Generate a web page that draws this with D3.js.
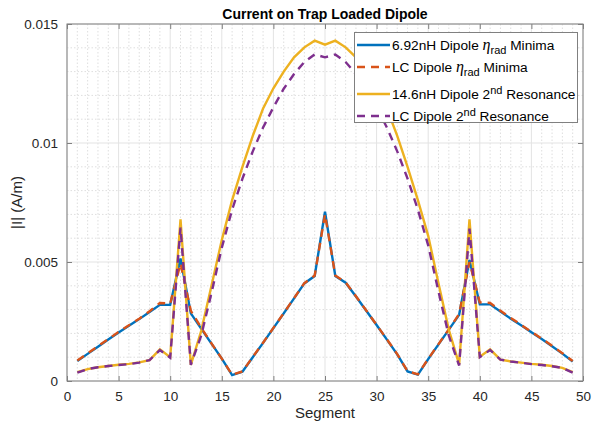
<!DOCTYPE html>
<html>
<head>
<meta charset="utf-8">
<script src="https://cdn.jsdelivr.net/npm/d3@7"></script>
<style>
  body { margin: 0; background: #fff; }
  svg { font-family: "Liberation Sans", Arial, sans-serif; }
</style>
</head>
<body>
<svg id="plot-svg"></svg>
<script>
const segments = d3.range(1, 50);

// segment 1..49
const inductor692 = [0.00084, 0.00114, 0.00144, 0.00174, 0.00204, 0.00232, 0.00260, 0.00290, 0.00320, 0.00320,
    0.00515, 0.00284, 0.00220, 0.00157, 0.00094, 0.00025, 0.00039, 0.00100, 0.00160, 0.00222,
    0.00284, 0.00347, 0.00410, 0.00441, 0.00711, 0.00441, 0.00413, 0.00355, 0.00295, 0.00235,
    0.00174, 0.00112, 0.00040, 0.00027, 0.00092, 0.00154, 0.00216, 0.00278, 0.00508, 0.00322,
    0.00322, 0.00292, 0.00262, 0.00234, 0.00205, 0.00176, 0.00146, 0.00115, 0.00082];
const lcMinima = [0.00086, 0.00116, 0.00146, 0.00176, 0.00206, 0.00234, 0.00262, 0.00293, 0.00328, 0.00325,
    0.00494, 0.00295, 0.00224, 0.00158, 0.00094, 0.00026, 0.00040, 0.00101, 0.00161, 0.00223,
    0.00285, 0.00348, 0.00411, 0.00443, 0.00700, 0.00443, 0.00414, 0.00356, 0.00296, 0.00236,
    0.00175, 0.00113, 0.00041, 0.00028, 0.00093, 0.00155, 0.00217, 0.00282, 0.00500, 0.00330,
    0.00328, 0.00295, 0.00265, 0.00236, 0.00207, 0.00178, 0.00148, 0.00117, 0.00084];
const inductor146 = [0.00037, 0.00050, 0.00058, 0.00063, 0.00068, 0.00072, 0.00078, 0.00088, 0.00133, 0.00100,
    0.00679, 0.00068, 0.00210, 0.00400, 0.00592, 0.00760, 0.00900, 0.01030, 0.01145, 0.01230,
    0.01300, 0.01360, 0.01402, 0.01430, 0.01413, 0.01430, 0.01402, 0.01360, 0.01300, 0.01230,
    0.01145, 0.01030, 0.00900, 0.00760, 0.00610, 0.00410, 0.00215, 0.00070, 0.00679, 0.00102,
    0.00133, 0.00090, 0.00082, 0.00077, 0.00072, 0.00068, 0.00063, 0.00055, 0.00037];
const lcResonance = [0.00035, 0.00050, 0.00058, 0.00063, 0.00067, 0.00071, 0.00077, 0.00088, 0.00130, 0.00098,
    0.00645, 0.00068, 0.00190, 0.00370, 0.00560, 0.00720, 0.00850, 0.00965, 0.01065, 0.01150,
    0.01228, 0.01290, 0.01340, 0.01372, 0.01360, 0.01372, 0.01340, 0.01290, 0.01228, 0.01150,
    0.01065, 0.00965, 0.00850, 0.00720, 0.00570, 0.00375, 0.00190, 0.00065, 0.00640, 0.00100,
    0.00130, 0.00090, 0.00082, 0.00077, 0.00071, 0.00067, 0.00062, 0.00055, 0.00035];

const xTicks = [0, 5, 10, 15, 20, 25, 30, 35, 40, 45, 50];
const yTicks = [0, 0.005, 0.01, 0.015];
const yTickLabels = ["0", "0.005", "0.01", "0.015"];

const series = [
    {values: inductor692, color: "#0072BD", dash: null, label: ["6.92nH Dipole ", "eta", " Minima"]},
    {values: lcMinima, color: "#D95319", dash: "8,6", label: ["LC Dipole ", "eta", " Minima"]},
    {values: inductor146, color: "#EDB120", dash: null, label: ["14.6nH Dipole 2", "nd", " Resonance"]},
    {values: lcResonance, color: "#7E2F8E", dash: "8,6", label: ["LC Dipole 2", "nd", " Resonance"]}
];

var margin = {left: 67, right: 11, top: 24, bottom: 43},
    width = 594 - margin.left - margin.right,
    height = 424 - margin.top - margin.bottom;

var root = d3.select("#plot-svg")
    .attr("width", 594)
    .attr("height", 424);

var svg = root.append("g")
    .attr("transform", "translate(" + margin.left + "," + margin.top + ")");

var xScale = d3.scaleLinear().domain([0, 50]).range([0, width]);
var yScale = d3.scaleLinear().domain([0, 0.015]).range([height, 0]);

// minor grid
svg.append("g").selectAll("line")
    .data(d3.range(0, 51).filter(d => d % 5 != 0))
    .enter().append("line")
    .attr("x1", d => xScale(d)).attr("x2", d => xScale(d))
    .attr("y1", 0).attr("y2", height)
    .attr("stroke", "#dedede").attr("stroke-dasharray", "1.5,2");
svg.append("g").selectAll("line")
    .data(d3.range(0, 16).filter(d => d % 5 != 0).map(d => d / 1000))
    .enter().append("line")
    .attr("y1", d => yScale(d)).attr("y2", d => yScale(d))
    .attr("x1", 0).attr("x2", width)
    .attr("stroke", "#dedede").attr("stroke-dasharray", "1.5,2");

// major grid
svg.append("g").selectAll("line")
    .data(xTicks)
    .enter().append("line")
    .attr("x1", d => xScale(d)).attr("x2", d => xScale(d))
    .attr("y1", 0).attr("y2", height)
    .attr("stroke", "#e3e3e3");
svg.append("g").selectAll("line")
    .data(yTicks)
    .enter().append("line")
    .attr("y1", d => yScale(d)).attr("y2", d => yScale(d))
    .attr("x1", 0).attr("x2", width)
    .attr("stroke", "#e3e3e3");

// lines
var line = d3.line()
    .x((d, i) => xScale(segments[i]))
    .y(d => yScale(d));

series.forEach(s => {
    svg.append("path")
        .datum(s.values)
        .attr("fill", "none")
        .attr("stroke", s.color)
        .attr("stroke-width", 2.4)
        .attr("stroke-dasharray", s.dash)
        .attr("d", line);
});

// axes, ticks inward on all four sides
function styleAxis(g) {
    g.select(".domain").remove();
    g.selectAll(".tick line").attr("stroke", "#808080");
    g.selectAll(".tick text").attr("fill", "#262626").style("font-size", "13.5px")
        .style("font-family", "Liberation Sans, Arial, sans-serif");
}

svg.append("g")
    .attr("transform", "translate(0," + height + ")")
    .call(d3.axisBottom(xScale).tickValues(xTicks).tickSize(-5).tickPadding(10))
    .call(styleAxis);
svg.append("g")
    .call(d3.axisTop(xScale).tickValues(xTicks).tickSize(-5).tickFormat(""))
    .call(styleAxis);
svg.append("g")
    .call(d3.axisLeft(yScale).tickValues(yTicks).tickSize(-5).tickPadding(9)
        .tickFormat((d, i) => yTickLabels[i]))
    .call(styleAxis);
svg.append("g")
    .attr("transform", "translate(" + width + ",0)")
    .call(d3.axisRight(yScale).tickValues(yTicks).tickSize(-5).tickFormat(""))
    .call(styleAxis);

svg.append("rect")
    .attr("width", width).attr("height", height)
    .attr("fill", "none").attr("stroke", "#808080");

// labels
root.append("text")
    .attr("x", margin.left + width / 2).attr("y", 19)
    .attr("text-anchor", "middle")
    .style("font-size", "14px").style("font-weight", "bold")
    .attr("fill", "#000")
    .text("Current on Trap Loaded Dipole");
root.append("text")
    .attr("x", margin.left + width / 2).attr("y", 418)
    .attr("text-anchor", "middle")
    .style("font-size", "15px").attr("fill", "#262626")
    .text("Segment");
root.append("text")
    .attr("transform", "translate(22," + (margin.top + height / 2) + ") rotate(-90)")
    .attr("text-anchor", "middle")
    .style("font-size", "15px").attr("fill", "#262626")
    .text("|I| (A/m)");

// legend
var legend = root.append("g");
legend.append("rect")
    .attr("x", 354.5).attr("y", 32.5).attr("width", 223).attr("height", 90)
    .attr("fill", "#fff").attr("stroke", "#808080");

const rowY = [45, 67, 94, 116];
series.forEach((s, i) => {
    legend.append("line")
        .attr("x1", 357).attr("x2", 390)
        .attr("y1", rowY[i]).attr("y2", rowY[i])
        .attr("stroke", s.color).attr("stroke-width", 2.4)
        .attr("stroke-dasharray", s.dash);
    var t = legend.append("text")
        .attr("x", 392).attr("y", rowY[i] + 5)
        .style("font-size", "13.7px").attr("fill", "#000");
    t.append("tspan").text(s.label[0]);
    if (s.label[1] == "eta") {
        t.append("tspan").style("font-family", "Liberation Serif, serif")
            .style("font-style", "italic").style("font-size", "16px").text("\u03B7");
        t.append("tspan").attr("dy", 4).style("font-size", "11px").text("rad");
        t.append("tspan").attr("dy", -4).text(s.label[2]);
    } else {
        t.append("tspan").attr("dy", -5).style("font-size", "11px").text(s.label[1]);
        t.append("tspan").attr("dy", 5).text(s.label[2]);
    }
});
</script>
</body>
</html>
